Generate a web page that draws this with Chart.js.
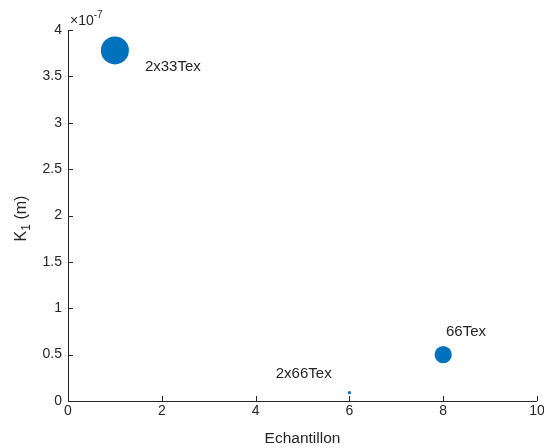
<!DOCTYPE html>
<html>
<head>
<meta charset="utf-8">
<script src="https://cdn.jsdelivr.net/npm/chart.js@4/dist/chart.umd.min.js"></script>
<style>
  html, body { margin: 0; padding: 0; background: #ffffff; }
  #wrap { width: 544px; height: 448px; }
</style>
</head>
<body>
<div id="wrap"><canvas id="c" width="544" height="448"></canvas></div>
<script>
// ---- data ----
const sampleX = [1, 6, 8];
const k1Values = [3.78e-7, 0.09e-7, 0.5e-7];
const sampleNames = ['2x33Tex', '2x66Tex', '66Tex'];
const nameX = [1.64, 4.43, 8.06];
const nameY = [3.60e-7, 0.29e-7, 0.744e-7];
const xTicks = [0, 2, 4, 6, 8, 10];
const yTicks = [0, 0.5e-7, 1e-7, 1.5e-7, 2e-7, 2.5e-7, 3e-7, 3.5e-7, 4e-7];
const yExponent = -7;

const TXT = '#262626';
const AX = '#262626';
const FONT = 'Liberation Sans, Arial, Helvetica, sans-serif';

const plugin = {
  id: 'matlabish',
  afterDraw(chart) {
    const ctx = chart.ctx;
    const xs = chart.scales.x, ys = chart.scales.y;
    const ca = chart.chartArea;
    ctx.save();
    // axes lines
    ctx.strokeStyle = AX;
    ctx.lineWidth = 1;
    ctx.beginPath();
    ctx.moveTo(ca.left + 0.5, ca.top);
    ctx.lineTo(ca.left + 0.5, ca.bottom + 0.5);
    ctx.lineTo(ca.right, ca.bottom + 0.5);
    ctx.stroke();
    // inward ticks
    ctx.beginPath();
    xTicks.forEach(v => {
      const px = Math.round(xs.getPixelForValue(v)) + 0.5;
      ctx.moveTo(px, ca.bottom);
      ctx.lineTo(px, ca.bottom - 5);
    });
    yTicks.forEach(v => {
      const py = Math.round(ys.getPixelForValue(v)) + 0.5;
      ctx.moveTo(ca.left, py);
      ctx.lineTo(ca.left + 5, py);
    });
    ctx.stroke();

    // sample names
    ctx.fillStyle = TXT;
    ctx.font = '15px ' + FONT;
    ctx.textAlign = 'left';
    ctx.textBaseline = 'middle';
    sampleNames.forEach((s, i) => {
      ctx.fillText(s, xs.getPixelForValue(nameX[i]), ys.getPixelForValue(nameY[i]));
    });

    // exponent label
    ctx.font = '14px ' + FONT;
    ctx.textBaseline = 'alphabetic';
    let ex = ca.left + 2;
    const ey = ca.top - 5;
    ctx.fillText('\u00d710', ex, ey);
    ex += ctx.measureText('\u00d710').width;
    ctx.font = '10px ' + FONT;
    ctx.fillText(String(yExponent), ex, ey - 7);

    // y title K_1 (m)
    ctx.translate(22, (ca.top + ca.bottom) / 2 + 3);
    ctx.rotate(-Math.PI / 2);
    ctx.font = '16px ' + FONT;
    const wK = ctx.measureText('K').width;
    ctx.font = '12px ' + FONT;
    const w1 = ctx.measureText('1').width;
    ctx.font = '16px ' + FONT;
    const wm = ctx.measureText(' (m)').width;
    const total = wK + w1 + wm;
    let tx = -total / 2;
    ctx.textBaseline = 'middle';
    ctx.fillText('K', tx, 0);
    tx += wK;
    ctx.font = '12px ' + FONT;
    ctx.fillText('1', tx, 5);
    tx += w1;
    ctx.font = '16px ' + FONT;
    ctx.fillText(' (m)', tx, 0);
    ctx.restore();
  }
};

new Chart(document.getElementById('c'), {
  type: 'scatter',
  data: {
    datasets: [{
      data: sampleX.map((x, i) => ({ x: x, y: k1Values[i] })),
      backgroundColor: '#0072BD',
      borderColor: '#0072BD',
      borderWidth: 0,
      pointRadius: [14, 1.6, 8.6],
      pointHoverRadius: [14, 1.6, 8.6]
    }]
  },
  options: {
    responsive: false,
    animation: false,
    events: [],
    layout: { autoPadding: false, padding: { top: 30, right: 7, left: 0, bottom: 0 } },
    plugins: {
      legend: { display: false },
      tooltip: { enabled: false }
    },
    scales: {
      x: {
        type: 'linear',
        min: 0, max: 10,
        afterBuildTicks: s => { s.ticks = xTicks.map(v => ({ value: v })); },
        afterFit: s => { s.height = 47; s.paddingLeft = 0; s.paddingRight = 0; },
        grid: { display: false, drawTicks: false },
        border: { display: false },
        ticks: {
          color: TXT,
          font: { family: FONT, size: 14 },
          padding: 2,
          maxRotation: 0,
          autoSkip: false,
          callback: v => String(v)
        },
        title: {
          display: true,
          text: 'Echantillon',
          color: TXT,
          font: { family: FONT, size: 15.5 },
          padding: { top: 2, bottom: 0 }
        }
      },
      y: {
        type: 'linear',
        min: 0, max: 4e-7,
        afterBuildTicks: s => { s.ticks = yTicks.map(v => ({ value: v })); },
        afterFit: s => { s.width = 68; s.paddingTop = 0; s.paddingBottom = 0; },
        grid: { display: false, drawTicks: false },
        border: { display: false },
        ticks: {
          color: TXT,
          font: { family: FONT, size: 14 },
          padding: 6,
          autoSkip: false,
          callback: v => String(Math.round(v * Math.pow(10, -yExponent) * 10) / 10)
        }
      }
    }
  },
  plugins: [plugin]
});
</script>
</body>
</html>
